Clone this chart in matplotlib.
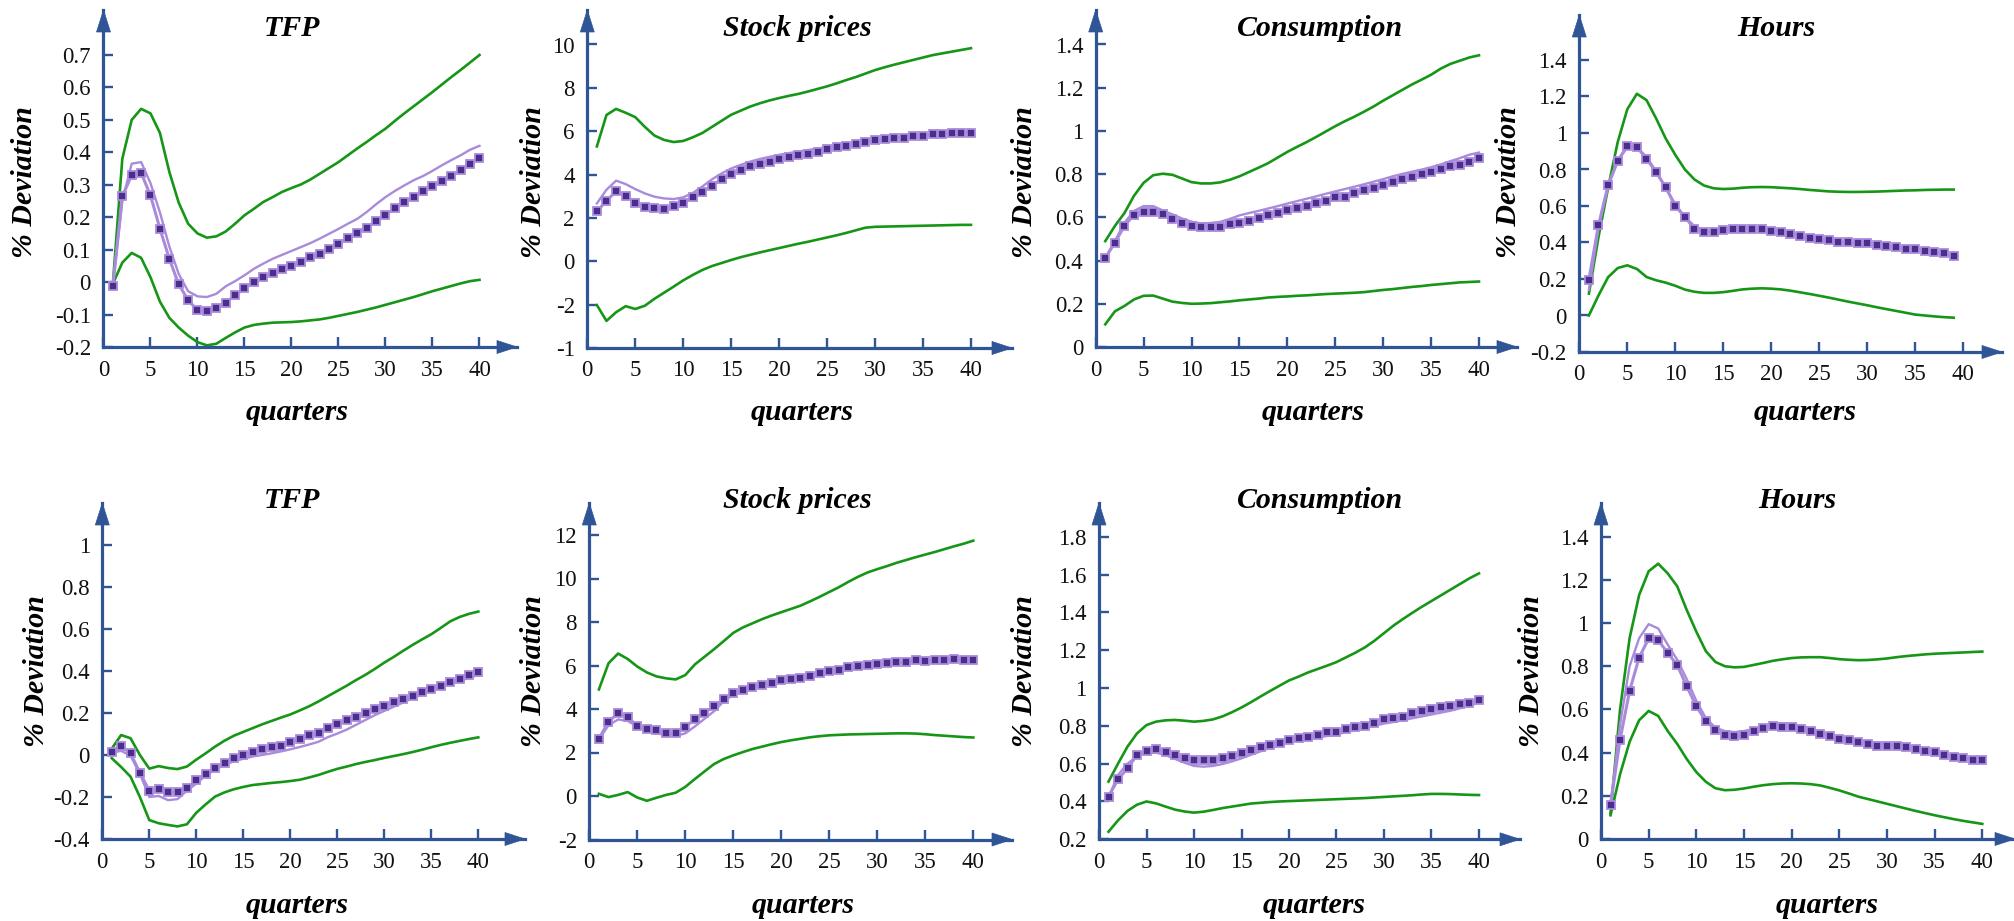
import matplotlib
matplotlib.use("Agg")
import matplotlib.pyplot as plt
from matplotlib.patches import Polygon

W, H, DPI = 2015, 921, 100
AXIS_BLUE = "#2F5597"
GREEN = "#169616"
LIGHT = "#A98BDB"
DARK = "#4B2D8C"
FONT = "Liberation Serif"
plt.rcParams["font.family"] = [FONT, "DejaVu Serif"]

quarters = list(range(1, 41))
quarters_39 = list(range(1, 40))
x_ticks = [0, 5, 10, 15, 20, 25, 30, 35, 40]

# ---------------- Row 1 ----------------
tfp1_upper = [-0.005, 0.38, 0.50, 0.534, 0.52, 0.46, 0.34, 0.245, 0.18, 0.15, 0.137, 0.141, 0.156, 0.18, 0.206,
              0.226, 0.247, 0.262, 0.278, 0.29, 0.301, 0.316, 0.334, 0.352, 0.37, 0.391, 0.412, 0.432, 0.453, 0.473,
              0.497, 0.52, 0.542, 0.564, 0.586, 0.609, 0.632, 0.654, 0.677, 0.70]
tfp1_line = [-0.005, 0.25, 0.365, 0.37, 0.305, 0.215, 0.11, 0.025, -0.028, -0.044, -0.046, -0.036, -0.013, 0.003,
             0.021, 0.041, 0.057, 0.072, 0.084, 0.096, 0.108, 0.120, 0.134, 0.149, 0.164, 0.180, 0.195, 0.216, 0.240,
             0.262, 0.281, 0.298, 0.314, 0.327, 0.343, 0.360, 0.376, 0.391, 0.408, 0.42]
tfp1_mark = [-0.012, 0.264, 0.33, 0.337, 0.267, 0.165, 0.072, -0.007, -0.055, -0.087, -0.09, -0.079, -0.063, -0.041,
             -0.019, -0.001, 0.015, 0.029, 0.040, 0.050, 0.062, 0.076, 0.087, 0.101, 0.118, 0.137, 0.152, 0.168,
             0.188, 0.208, 0.227, 0.246, 0.262, 0.280, 0.296, 0.313, 0.328, 0.345, 0.364, 0.383]
tfp1_lower = [-0.005, 0.06, 0.09, 0.075, 0.015, -0.06, -0.11, -0.14, -0.165, -0.185, -0.195, -0.19, -0.172, -0.155,
              -0.14, -0.132, -0.128, -0.125, -0.124, -0.123, -0.121, -0.118, -0.115, -0.11, -0.104, -0.098, -0.092,
              -0.085, -0.078, -0.07, -0.062, -0.054, -0.046, -0.037, -0.028, -0.02, -0.012, -0.004, 0.003, 0.007]

stock1_upper = [5.3, 6.75, 7.03, 6.85, 6.65, 6.2, 5.8, 5.6, 5.5, 5.55, 5.72, 5.92, 6.2, 6.48, 6.76, 6.95, 7.14, 7.29,
                7.42, 7.53, 7.63, 7.72, 7.83, 7.95, 8.07, 8.21, 8.36, 8.5, 8.66, 8.82, 8.95, 9.07, 9.18, 9.29, 9.4,
                9.51, 9.59, 9.67, 9.75, 9.83]
stock1_line = [2.67, 3.3, 3.72, 3.56, 3.33, 3.13, 2.98, 2.9, 2.87, 2.95, 3.15, 3.45, 3.78, 4.05, 4.28, 4.45, 4.6, 4.72,
               4.82, 4.91, 4.99, 5.06, 5.13, 5.2, 5.27, 5.33, 5.39, 5.45, 5.51, 5.57, 5.62, 5.67, 5.71, 5.75, 5.79,
               5.83, 5.87, 5.9, 5.92, 5.94]
stock1_mark = [2.30, 2.79, 3.23, 3.02, 2.70, 2.52, 2.47, 2.39, 2.53, 2.70, 2.95, 3.21, 3.49, 3.80, 4.03, 4.21, 4.38,
               4.49, 4.60, 4.71, 4.80, 4.89, 4.95, 5.02, 5.19, 5.26, 5.32, 5.39, 5.51, 5.60, 5.62, 5.69, 5.71, 5.77,
               5.80, 5.85, 5.88, 5.91, 5.93, 5.93]
stock1_lower = [-2.02, -2.75, -2.35, -2.07, -2.2, -2.05, -1.73, -1.45, -1.17, -0.88, -0.63, -0.4, -0.22, -0.08, 0.06,
                0.19, 0.3, 0.41, 0.51, 0.61, 0.71, 0.81, 0.9, 1.0, 1.1, 1.2, 1.31, 1.43, 1.55, 1.59, 1.6, 1.61, 1.62,
                1.63, 1.64, 1.65, 1.66, 1.67, 1.68, 1.68]

cons1_upper = [0.49, 0.56, 0.62, 0.70, 0.76, 0.795, 0.802, 0.797, 0.78, 0.763, 0.757, 0.757, 0.762, 0.774, 0.79, 0.81,
               0.83, 0.851, 0.877, 0.903, 0.926, 0.948, 0.972, 0.997, 1.022, 1.045, 1.066, 1.089, 1.113, 1.14, 1.165,
               1.19, 1.215, 1.237, 1.26, 1.288, 1.31, 1.325, 1.34, 1.35]
cons1_line = [0.41, 0.49, 0.575, 0.63, 0.652, 0.652, 0.632, 0.614, 0.595, 0.58, 0.572, 0.574, 0.579, 0.593, 0.609,
              0.62, 0.63, 0.641, 0.652, 0.664, 0.675, 0.686, 0.697, 0.709, 0.72, 0.731, 0.742, 0.753, 0.765, 0.777,
              0.79, 0.801, 0.811, 0.821, 0.832, 0.845, 0.86, 0.874, 0.89, 0.9]
cons1_mark = [0.412, 0.483, 0.56, 0.613, 0.627, 0.627, 0.617, 0.594, 0.576, 0.562, 0.556, 0.556, 0.557, 0.568, 0.573,
              0.583, 0.597, 0.613, 0.622, 0.633, 0.644, 0.651, 0.668, 0.674, 0.693, 0.694, 0.715, 0.725, 0.738, 0.752,
              0.762, 0.776, 0.787, 0.801, 0.810, 0.826, 0.838, 0.843, 0.856, 0.873]
cons1_lower = [0.105, 0.165, 0.19, 0.22, 0.237, 0.238, 0.224, 0.21, 0.204, 0.2, 0.201, 0.203, 0.207, 0.211, 0.216,
               0.22, 0.224, 0.229, 0.232, 0.234, 0.237, 0.239, 0.242, 0.245, 0.247, 0.249, 0.251, 0.254, 0.259, 0.264,
               0.268, 0.273, 0.278, 0.282, 0.287, 0.291, 0.295, 0.299, 0.301, 0.303]

hours1_upper = [0.12, 0.43, 0.70, 0.95, 1.13, 1.215, 1.18, 1.08, 0.97, 0.88, 0.80, 0.745, 0.712, 0.697, 0.693, 0.695,
                0.70, 0.703, 0.704, 0.703, 0.70, 0.697, 0.693, 0.688, 0.684, 0.68, 0.678, 0.677, 0.677, 0.678, 0.679,
                0.681, 0.683, 0.685, 0.686, 0.688, 0.689, 0.69, 0.69]
hours1_line = [0.14, 0.48, 0.71, 0.85, 0.92, 0.92, 0.87, 0.79, 0.70, 0.61, 0.54, 0.49, 0.465, 0.46, 0.465, 0.472, 0.476,
               0.476, 0.474, 0.468, 0.46, 0.45, 0.44, 0.43, 0.42, 0.413, 0.406, 0.402, 0.40, 0.397, 0.39, 0.383, 0.376,
               0.368, 0.36, 0.352, 0.345, 0.337, 0.33]
hours1_mark = [0.197, 0.495, 0.714, 0.846, 0.930, 0.923, 0.859, 0.786, 0.702, 0.601, 0.539, 0.475, 0.460, 0.458,
               0.471, 0.476, 0.476, 0.476, 0.475, 0.465, 0.460, 0.445, 0.436, 0.424, 0.418, 0.411, 0.400, 0.400, 0.398,
               0.398, 0.387, 0.381, 0.374, 0.367, 0.367, 0.352, 0.347, 0.340, 0.328]
hours1_lower = [0.0, 0.11, 0.21, 0.26, 0.275, 0.255, 0.211, 0.193, 0.18, 0.163, 0.142, 0.13, 0.124, 0.124, 0.128,
                0.135, 0.143, 0.147, 0.149, 0.147, 0.143, 0.136, 0.127, 0.118, 0.108, 0.098, 0.087, 0.076, 0.066,
                0.056, 0.045, 0.035, 0.025, 0.015, 0.005, 0.0, -0.005, -0.009, -0.012]

# ---------------- Row 2 ----------------
tfp2_upper = [0.03, 0.095, 0.08, 0.0, -0.065, -0.053, -0.062, -0.067, -0.055, -0.022, 0.008, 0.04, 0.068, 0.092, 0.11,
              0.128, 0.146, 0.162, 0.178, 0.193, 0.212, 0.232, 0.255, 0.28, 0.305, 0.33, 0.357, 0.382, 0.41, 0.44,
              0.467, 0.496, 0.524, 0.55, 0.575, 0.605, 0.636, 0.657, 0.672, 0.683]
tfp2_line = [0.01, 0.02, -0.003, -0.09, -0.2, -0.195, -0.215, -0.21, -0.17, -0.136, -0.098, -0.07, -0.047, -0.03,
             -0.018, -0.007, 0.0, 0.008, 0.017, 0.027, 0.038, 0.05, 0.063, 0.085, 0.102, 0.121, 0.144, 0.167, 0.19,
             0.21, 0.23, 0.25, 0.27, 0.288, 0.306, 0.322, 0.338, 0.353, 0.367, 0.381]
tfp2_mark = [0.013, 0.044, 0.008, -0.084, -0.171, -0.163, -0.178, -0.176, -0.159, -0.119, -0.092, -0.063, -0.037,
             -0.013, 0.002, 0.013, 0.027, 0.040, 0.044, 0.060, 0.078, 0.094, 0.103, 0.129, 0.146, 0.165, 0.183, 0.198,
             0.217, 0.233, 0.252, 0.267, 0.281, 0.298, 0.316, 0.330, 0.348, 0.360, 0.383, 0.397]
tfp2_lower = [-0.015, -0.057, -0.103, -0.2, -0.31, -0.325, -0.333, -0.34, -0.33, -0.275, -0.235, -0.198, -0.178,
              -0.163, -0.152, -0.143, -0.138, -0.133, -0.129, -0.124, -0.118, -0.107, -0.095, -0.08, -0.066, -0.055,
              -0.043, -0.033, -0.024, -0.014, -0.005, 0.004, 0.014, 0.025, 0.037, 0.048, 0.058, 0.067, 0.076, 0.084]

stock2_upper = [4.9, 6.1, 6.55, 6.3, 5.95, 5.68, 5.5, 5.41, 5.36, 5.56, 6.05, 6.4, 6.75, 7.12, 7.5, 7.75, 7.94, 8.13,
                8.3, 8.45, 8.6, 8.75, 8.95, 9.16, 9.38, 9.6, 9.85, 10.08, 10.28, 10.43, 10.57, 10.72, 10.85, 10.98,
                11.1, 11.22, 11.35, 11.48, 11.6, 11.74]
stock2_line = [2.6, 3.25, 3.52, 3.45, 3.2, 3.0, 2.88, 2.8, 2.76, 2.88, 3.2, 3.55, 3.9, 4.35, 4.65, 4.82, 4.96, 5.08,
               5.17, 5.27, 5.35, 5.42, 5.5, 5.58, 5.66, 5.74, 5.82, 5.9, 5.96, 6.02, 6.07, 6.11, 6.15, 6.18, 6.2, 6.22,
               6.24, 6.25, 6.26, 6.27]
stock2_mark = [2.63, 3.42, 3.80, 3.63, 3.22, 3.06, 3.03, 2.88, 2.88, 3.17, 3.54, 3.83, 4.13, 4.44, 4.72, 4.87, 4.99,
               5.11, 5.19, 5.32, 5.39, 5.42, 5.52, 5.64, 5.73, 5.79, 5.94, 5.99, 6.02, 6.07, 6.11, 6.14, 6.17, 6.25,
               6.21, 6.25, 6.27, 6.28, 6.27, 6.27]
stock2_lower = [0.1, -0.05, 0.05, 0.18, -0.07, -0.22, -0.08, 0.05, 0.15, 0.42, 0.78, 1.13, 1.47, 1.7, 1.87, 2.02, 2.16,
                2.27, 2.38, 2.48, 2.56, 2.63, 2.7, 2.75, 2.79, 2.81, 2.83, 2.84, 2.85, 2.86, 2.87, 2.88, 2.88, 2.87,
                2.84, 2.8, 2.77, 2.74, 2.71, 2.69]

cons2_upper = [0.505, 0.6, 0.69, 0.76, 0.804, 0.822, 0.829, 0.831, 0.827, 0.822, 0.826, 0.834, 0.85, 0.872, 0.897,
               0.925, 0.955, 0.984, 1.012, 1.04, 1.06, 1.082, 1.1, 1.118, 1.137, 1.162, 1.187, 1.215, 1.25, 1.29, 1.33,
               1.365, 1.398, 1.43, 1.46, 1.49, 1.52, 1.55, 1.58, 1.606]
cons2_line = [0.42, 0.54, 0.6, 0.638, 0.658, 0.658, 0.645, 0.625, 0.605, 0.588, 0.584, 0.588, 0.598, 0.612, 0.628,
              0.647, 0.665, 0.683, 0.7, 0.716, 0.724, 0.731, 0.738, 0.746, 0.754, 0.767, 0.777, 0.787, 0.8, 0.812,
              0.82, 0.83, 0.84, 0.85, 0.86, 0.87, 0.88, 0.893, 0.907, 0.922]
cons2_mark = [0.426, 0.517, 0.575, 0.646, 0.667, 0.678, 0.663, 0.646, 0.628, 0.619, 0.619, 0.619, 0.632, 0.641, 0.655,
              0.672, 0.690, 0.699, 0.711, 0.725, 0.734, 0.739, 0.752, 0.766, 0.769, 0.781, 0.796, 0.801, 0.813, 0.834,
              0.843, 0.845, 0.866, 0.880, 0.887, 0.898, 0.905, 0.915, 0.922, 0.937]
cons2_lower = [0.24, 0.3, 0.35, 0.383, 0.4, 0.39, 0.373, 0.357, 0.347, 0.341, 0.346, 0.355, 0.365, 0.373, 0.381, 0.389,
               0.393, 0.397, 0.4, 0.402, 0.404, 0.406, 0.408, 0.41, 0.412, 0.414, 0.416, 0.418, 0.421, 0.424, 0.427,
               0.43, 0.433, 0.437, 0.44, 0.44, 0.439, 0.437, 0.435, 0.434]

hours2_upper = [0.12, 0.6, 0.93, 1.13, 1.24, 1.275, 1.23, 1.17, 1.06, 0.96, 0.87, 0.82, 0.80, 0.795, 0.797, 0.806,
                0.815, 0.825, 0.832, 0.838, 0.841, 0.842, 0.842, 0.838, 0.833, 0.83, 0.828, 0.829, 0.832, 0.836, 0.842,
                0.847, 0.851, 0.855, 0.858, 0.86, 0.862, 0.864, 0.866, 0.868]
hours2_line = [0.16, 0.53, 0.80, 0.93, 0.995, 0.975, 0.9, 0.83, 0.74, 0.64, 0.56, 0.515, 0.5, 0.495, 0.5, 0.51, 0.522,
               0.532, 0.535, 0.533, 0.525, 0.512, 0.498, 0.485, 0.472, 0.462, 0.455, 0.45, 0.446, 0.442, 0.437, 0.43,
               0.42, 0.41, 0.4, 0.39, 0.382, 0.375, 0.368, 0.362]
hours2_mark = [0.159, 0.460, 0.686, 0.84, 0.929, 0.920, 0.862, 0.805, 0.707, 0.615, 0.546, 0.506, 0.483, 0.475, 0.483,
               0.500, 0.514, 0.522, 0.519, 0.519, 0.511, 0.498, 0.488, 0.475, 0.464, 0.457, 0.449, 0.441, 0.433, 0.433,
               0.429, 0.426, 0.416, 0.406, 0.401, 0.387, 0.381, 0.375, 0.368, 0.364]
hours2_lower = [0.11, 0.3, 0.45, 0.55, 0.593, 0.57, 0.5, 0.44, 0.37, 0.31, 0.265, 0.235, 0.226, 0.228, 0.234, 0.242,
                0.249, 0.254, 0.257, 0.258, 0.257, 0.254, 0.248, 0.237, 0.225, 0.211, 0.196, 0.185, 0.174, 0.163, 0.152,
                0.141, 0.13, 0.12, 0.11, 0.101, 0.092, 0.084, 0.077, 0.07]

# y ticks (values, labels)
yt_tfp1 = [-0.2, -0.1, 0, 0.1, 0.2, 0.3, 0.4, 0.5, 0.6, 0.7]
yt_stock1 = [-4, -2, 0, 2, 4, 6, 8, 10]
yl_stock1 = ["-1", "-2", "0", "2", "4", "6", "8", "10"]
yt_cons1 = [0, 0.2, 0.4, 0.6, 0.8, 1.0, 1.2, 1.4]
yt_hours1 = [-0.2, 0, 0.2, 0.4, 0.6, 0.8, 1.0, 1.2, 1.4]
yt_tfp2 = [-0.4, -0.2, 0, 0.2, 0.4, 0.6, 0.8, 1.0]
yt_stock2 = [-2, 0, 2, 4, 6, 8, 10, 12]
yt_cons2 = [0.2, 0.4, 0.6, 0.8, 1.0, 1.2, 1.4, 1.6, 1.8]
yt_hours2 = [0, 0.2, 0.4, 0.6, 0.8, 1.0, 1.2, 1.4]


def fmt(v):
    return f"{v:g}"


# layout (pixels from top-left): x0, y0 (origin), x at 40, x-arrow tip, y-arrow tip
panels = [
    dict(title="TFP", q=quarters, up=tfp1_upper, ln=tfp1_line, mk=tfp1_mark, lo=tfp1_lower,
         yt=yt_tfp1, yl=[fmt(v) for v in yt_tfp1], box=(103.5, 347, 479.5, 517, 10), yref=(-0.2, 0.7, 55),
         t_xy=(292, 28), xl_xy=(297, 412), yl_xy=(25, 182)),
    dict(title="Stock prices", q=quarters, up=stock1_upper, ln=stock1_line, mk=stock1_mark, lo=stock1_lower,
         yt=yt_stock1, yl=yl_stock1, box=(587.3, 348, 971, 1012, 10), yref=(-4, 10, 44.5),
         t_xy=(797, 28), xl_xy=(802, 412), yl_xy=(534, 182)),
    dict(title="Consumption", q=quarters, up=cons1_upper, ln=cons1_line, mk=cons1_mark, lo=cons1_lower,
         yt=yt_cons1, yl=[fmt(v) for v in yt_cons1], box=(1095.7, 347, 1479, 1517, 10), yref=(0, 1.4, 44.5),
         t_xy=(1320, 28), xl_xy=(1313, 412), yl_xy=(1025, 182)),
    dict(title="Hours", q=quarters_39, up=hours1_upper, ln=hours1_line, mk=hours1_mark, lo=hours1_lower,
         yt=yt_hours1, yl=[fmt(v) for v in yt_hours1], box=(1579.3, 352, 1963.3, 2002, 15), yref=(-0.2, 1.4, 60),
         t_xy=(1776, 28), xl_xy=(1805, 412), yl_xy=(1509, 182)),
    dict(title="TFP", q=quarters, up=tfp2_upper, ln=tfp2_line, mk=tfp2_mark, lo=tfp2_lower,
         yt=yt_tfp2, yl=[fmt(v) for v in yt_tfp2], box=(102.3, 839, 478.3, 525, 503), yref=(-0.4, 1.0, 545),
         t_xy=(292, 500), xl_xy=(297, 905), yl_xy=(37, 671)),
    dict(title="Stock prices", q=quarters, up=stock2_upper, ln=stock2_line, mk=stock2_mark, lo=stock2_lower,
         yt=yt_stock2, yl=[fmt(v) for v in yt_stock2], box=(589.3, 839.5, 973.3, 1012, 503), yref=(-2, 12, 535),
         t_xy=(797, 500), xl_xy=(803, 905), yl_xy=(534, 671)),
    dict(title="Consumption", q=quarters, up=cons2_upper, ln=cons2_line, mk=cons2_mark, lo=cons2_lower,
         yt=yt_cons2, yl=[fmt(v) for v in yt_cons2], box=(1099, 839.3, 1479, 1520, 503), yref=(0.2, 1.8, 536.7),
         t_xy=(1320, 500), xl_xy=(1314, 905), yl_xy=(1025, 671)),
    dict(title="Hours", q=quarters, up=hours2_upper, ln=hours2_line, mk=hours2_mark, lo=hours2_lower,
         yt=yt_hours2, yl=[fmt(v) for v in yt_hours2], box=(1601, 839, 1982.3, 2015, 503), yref=(0, 1.4, 536.7),
         t_xy=(1797, 500), xl_xy=(1827, 905), yl_xy=(1532, 671)),
]

fig = plt.figure(figsize=(W / DPI, H / DPI), dpi=DPI)
fig.patch.set_facecolor("white")


def fx(x):
    return x / W


def fy(y):
    return 1 - y / H


label_kw = dict(fontweight="bold", fontstyle="italic", fontsize=21.5, ha="center", va="center")

for p in panels:
    x0, y0, x40, xtip, ytip = p["box"]
    ymin, yref, yref_px = p["yref"]
    ax = fig.add_axes([fx(x0), fy(y0), (xtip - x0) / W, (y0 - ytip) / H])
    ax.set_xlim(0, 40 * (xtip - x0) / (x40 - x0))
    ax.set_ylim(ymin, ymin + (yref - ymin) * (y0 - ytip) / (y0 - yref_px))
    ax.patch.set_visible(False)
    for s in ("top", "right"):
        ax.spines[s].set_visible(False)
    for s in ("left", "bottom"):
        ax.spines[s].set_color(AXIS_BLUE)
        ax.spines[s].set_linewidth(2.3)

    ax.plot(p["q"], p["up"], color=GREEN, lw=1.9, zorder=2, clip_on=False)
    ax.plot(p["q"], p["lo"], color=GREEN, lw=1.9, zorder=2, clip_on=False)
    ax.plot(p["q"], p["ln"], color=LIGHT, lw=1.7, zorder=3, clip_on=False)
    ax.plot(p["q"], p["mk"], color=LIGHT, lw=2.2, marker="s", ms=5.2, mfc=DARK, mec=LIGHT, mew=1.3,
            zorder=4, clip_on=False)

    ax.set_xticks(x_ticks)
    ax.set_xticklabels([str(v) for v in x_ticks])
    ax.set_yticks(p["yt"])
    ax.set_yticklabels(p["yl"])
    ax.tick_params(direction="in", length=7.5, width=1.7, color=AXIS_BLUE, labelsize=16.5, pad=9,
                   labelcolor="#111111")

    # arrow heads
    xa = [(fx(xtip), fy(y0)), (fx(xtip - 20), fy(y0 - 6.5)), (fx(xtip - 20), fy(y0 + 6.5))]
    ya = [(fx(x0), fy(ytip)), (fx(x0 - 7), fy(ytip + 22)), (fx(x0 + 7), fy(ytip + 22))]
    for pts in (xa, ya):
        fig.add_artist(Polygon(pts, closed=True, transform=fig.transFigure, facecolor=AXIS_BLUE,
                               edgecolor=AXIS_BLUE, lw=0.5, zorder=5))

    fig.text(fx(p["t_xy"][0]), fy(p["t_xy"][1]), p["title"], **label_kw)
    fig.text(fx(p["xl_xy"][0]), fy(p["xl_xy"][1]), "quarters", **label_kw)
    fig.text(fx(p["yl_xy"][0]), fy(p["yl_xy"][1]), "% Deviation", rotation=90, **label_kw)

fig.savefig("out.png", dpi=DPI, facecolor="white")
